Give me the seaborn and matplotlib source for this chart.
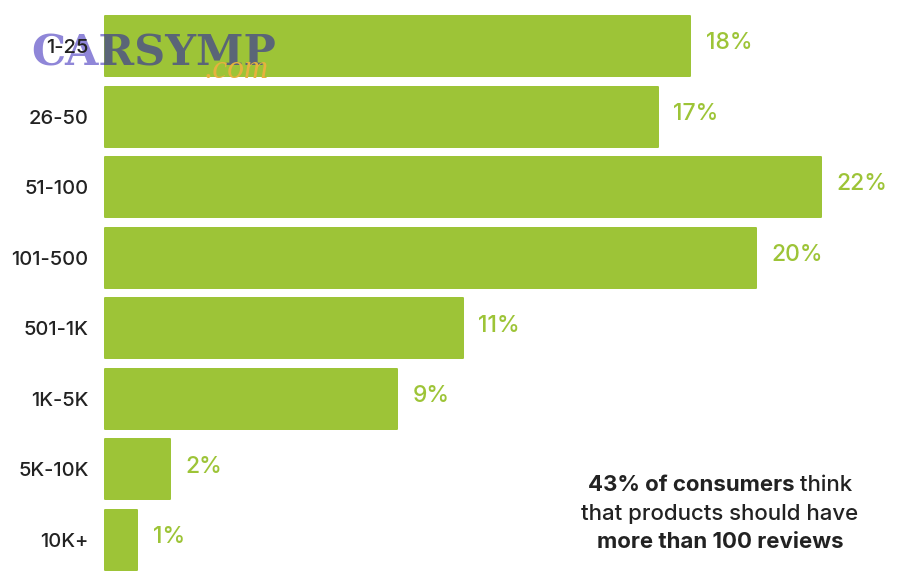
import matplotlib
matplotlib.use("Agg")
import matplotlib.pyplot as plt
import seaborn as sns
import pandas as pd
from matplotlib.transforms import Bbox

# values
review_bins = ["1-25", "26-50", "51-100", "101-500", "501-1K", "1K-5K", "5K-10K", "10K+"]
shares = [18, 17, 22, 20, 11, 9, 2, 1]
note_lines = [
    [("43% of consumers", "bold"), (" think", "medium")],
    [("that products should have", "medium")],
    [("more than 100 reviews", "bold")],
]

GREEN = "#9dc437"
FONT = "Inter"

sns.set_theme(style="white")
plt.rcParams["font.family"] = [FONT, "DejaVu Sans"]

W, H = 900, 572
X0 = 104.5
fig = plt.figure(figsize=(W / 100, H / 100), dpi=100)
ax = fig.add_axes([X0 / W, 0, (W - X0) / W, 1])

df = pd.DataFrame({"bin": review_bins, "share": shares})
sns.barplot(data=df, x="share", y="bin", color=GREEN, saturation=1, width=0.85, ax=ax)

# slightly rounded corners
for bar in ax.patches:
    bar.set_edgecolor(GREEN)
    bar.set_linewidth(1.44)
    bar.set_joinstyle("round")
    bar.set_clip_on(False)

ax.set_xlim(0, (W - X0) / 32.55)
ax.set_ylim((H - 46) / 70.57, -46 / 70.57)
ax.set_xlabel("")
ax.set_ylabel("")
ax.set_xticks([])
sns.despine(ax=ax, left=True, bottom=True, top=True, right=True)
ax.set_axisbelow(False)
ax.tick_params(axis="y", length=0, pad=11.5, labelsize=14.5, labelcolor="#222222")
for lab in ax.get_yticklabels():
    lab.set_fontweight("medium")

# value labels sit a little above the bar centre
for i, v in enumerate(shares):
    ax.annotate(f"{v}%", (v, i), xytext=(11.2, 2), textcoords="offset points",
                ha="left", va="center", fontsize=16.5, fontweight="medium", color=GREEN)

# watermark: purple on white, slate over the bars, under the tick labels
wm_y = 1 - 65 / H
for col, box in [("#8f86d8", (0, 0, 104, H)), ("#5a6577", (104, 0, W, H))]:
    t = ax.text(31 / W, wm_y, "CARSYMP", fontsize=31, fontweight="bold",
                family=["DejaVu Serif"], color=col, zorder=2, transform=fig.transFigure)
    t.set_clip_path(None)
    t.set_clip_box(Bbox.from_extents(*box))
    t.set_clip_on(True)
ax.text(205 / W, 1 - 78 / H, ".com", fontsize=24, style="italic",
        family=["Liberation Serif"], color="#e6b23e", zorder=2, transform=fig.transFigure)

# the note, bold and regular runs on one line
fig.canvas.draw()
renderer = fig.canvas.get_renderer()
for line, y in zip(note_lines, [485, 514, 542]):
    parts = [fig.text(0, 1 - y / H, s, fontsize=16, fontweight=w, color="#222222",
                      va="center", ha="left") for s, w in line]
    widths = [p.get_window_extent(renderer).width for p in parts]
    x = 720 - sum(widths) / 2
    for p, wd in zip(parts, widths):
        p.set_x(x / W)
        x += wd

fig.savefig("out.png", dpi=100, facecolor="white")
